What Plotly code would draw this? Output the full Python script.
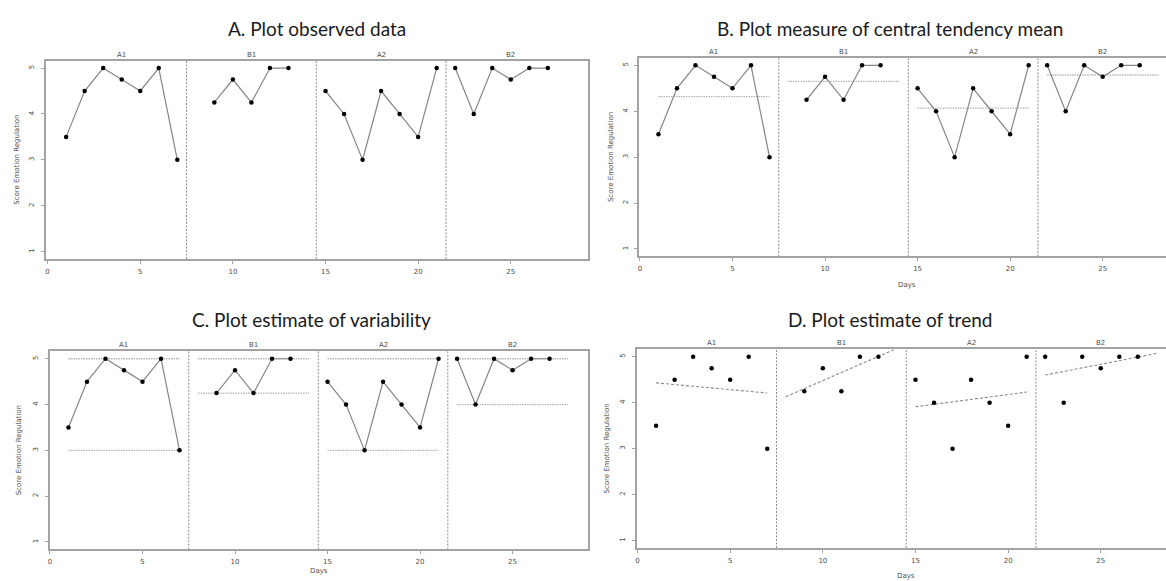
import plotly.graph_objects as go

# ---------------- data ----------------
phase_names = ["A1", "B1", "A2", "B2"]
phase_days = [
    [1, 2, 3, 4, 5, 6, 7],
    [9, 10, 11, 12, 13],
    [15, 16, 17, 18, 19, 20, 21],
    [22, 23, 24, 25, 26, 27],
]
phase_scores = [
    [3.5, 4.5, 5.0, 4.75, 4.5, 5.0, 3.0],
    [4.25, 4.75, 4.25, 5.0, 5.0],
    [4.5, 4.0, 3.0, 4.5, 4.0, 3.5, 5.0],
    [5.0, 4.0, 5.0, 4.75, 5.0, 5.0],
]
phase_start = [1, 8, 15, 22]
phase_end = [7, 14, 21, 28]
phase_centers = [4, 11, 18, 25]
phase_breaks = [7.5, 14.5, 21.5]
phase_means = [4.32, 4.65, 4.07, 4.79]
phase_min = [3.0, 4.25, 3.0, 4.0]
phase_max = [5.0, 5.0, 5.0, 5.0]
trend_start = [4.43, 4.13, 3.91, 4.60]
trend_end = [4.21, 5.18, 4.23, 5.07]

panel_titles = [
    "A. Plot observed data",
    "B. Plot measure of central tendency mean",
    "C. Plot estimate of variability",
    "D. Plot estimate of trend",
]
x_ticks = [0, 5, 10, 15, 20, 25]
y_ticks = [1, 2, 3, 4, 5]

# ---------------- geometry (pixels) ----------------
W, H = 1166, 581
boxes = [
    dict(l=44, r=586.7, t=60.7, b=259.0, xr=[-0.09, 29.15]),
    dict(l=638.3, r=1166, t=58.0, b=256.3, xr=[-0.04, 28.42]),
    dict(l=47.7, r=586.7, t=351.4, b=549.3, xr=[-0.02, 29.06]),
    dict(l=635.7, r=1166, t=349.3, b=548.0, xr=[-0.05, 28.52]),
]
title_pos = [(316, 28), (890, 28), (310, 320), (890, 320)]
ylab_x = [15, 610, 17, 606]
days_pos = [None, (907, 285), (318, 571), (906, 576)]

BOX = "#a3a3a3"
TXT = "#4d4d4d"
FONT = "DejaVu Sans"
SMALL = 7


def px(x):
    return x / W


def py(y):
    return 1 - y / H


fig = go.Figure()
annotations = []
shapes = []

for p in range(4):
    bx = boxes[p]
    sfx = "" if p == 0 else str(p + 1)
    xa, ya = "x" + sfx, "y" + sfx
    right_edge = bx["r"] < W - 1

    fig.layout["xaxis" + sfx] = dict(
        domain=[px(bx["l"]), min(1.0, px(bx["r"]))],
        range=bx["xr"],
        anchor=ya,
        tickvals=x_ticks,
        ticks="outside",
        ticklen=3,
        tickcolor=BOX,
        showline=True,
        linecolor=BOX,
        linewidth=1.5,
        mirror=True,
        showgrid=False,
        zeroline=False,
        tickfont=dict(family=FONT, size=SMALL, color=TXT),
        ticklabelstandoff=2,
    )
    fig.layout["yaxis" + sfx] = dict(
        domain=[py(bx["b"]), py(bx["t"])],
        range=[0.84, 5.16],
        anchor=xa,
        tickvals=y_ticks,
        ticks="outside",
        ticklen=3,
        tickcolor=BOX,
        tickangle=-90,
        showline=True,
        linecolor=BOX,
        linewidth=1.5,
        mirror=right_edge,
        showgrid=False,
        zeroline=False,
        tickfont=dict(family=FONT, size=SMALL, color=TXT),
        ticklabelstandoff=4,
    )

    # phase separators
    for xb in phase_breaks:
        shapes.append(dict(type="line", xref=xa, yref=ya + " domain",
                           x0=xb, x1=xb, y0=0, y1=1,
                           line=dict(color="#8c8c8c", width=1, dash="2px,1.5px")))

    for i in range(4):
        if p == 1:
            fig.add_trace(go.Scatter(
                x=[phase_start[i], phase_end[i]], y=[phase_means[i], phase_means[i]],
                mode="lines", xaxis=xa, yaxis=ya, showlegend=False, hoverinfo="skip",
                line=dict(color="#b3b3b3", width=1.3, dash="1.5px,1px")))
        if p == 2:
            for lv in (phase_min[i], phase_max[i]):
                fig.add_trace(go.Scatter(
                    x=[phase_start[i], phase_end[i]], y=[lv, lv],
                    mode="lines", xaxis=xa, yaxis=ya, showlegend=False, hoverinfo="skip",
                    line=dict(color="#b3b3b3", width=1.3, dash="1.5px,1px")))
        if p == 3:
            fig.add_trace(go.Scatter(
                x=[phase_start[i], phase_end[i]], y=[trend_start[i], trend_end[i]],
                mode="lines", xaxis=xa, yaxis=ya, showlegend=False, hoverinfo="skip",
                line=dict(color="#8a8a8a", width=1.1, dash="3px,2px")))

        fig.add_trace(go.Scatter(
            x=phase_days[i], y=phase_scores[i],
            mode="markers" if p == 3 else "lines+markers",
            xaxis=xa, yaxis=ya, showlegend=False,
            line=dict(color="#858585", width=1.2),
            marker=dict(color="black", size=4.5)))

        annotations.append(dict(
            x=phase_centers[i], y=py(bx["t"]), xref=xa, yref="paper",
            text=phase_names[i], showarrow=False, yanchor="bottom",
            font=dict(family=FONT, size=SMALL, color=TXT)))

    tx, ty = title_pos[p]
    annotations.append(dict(
        x=px(tx), y=py(ty), xref="paper", yref="paper", text=panel_titles[p],
        showarrow=False, xanchor="center", yanchor="middle",
        font=dict(family="Lato", size=19, color="#1a1a1a")))

    annotations.append(dict(
        x=px(ylab_x[p]), y=py((bx["t"] + bx["b"]) / 2), xref="paper", yref="paper",
        text="Score Emotion Regulation", textangle=-90, showarrow=False,
        xanchor="center", yanchor="middle",
        font=dict(family=FONT, size=SMALL, color=TXT)))

    if days_pos[p] is not None:
        dx, dy = days_pos[p]
        annotations.append(dict(
            x=px(dx), y=py(dy), xref="paper", yref="paper", text="Days",
            showarrow=False, xanchor="center", yanchor="middle",
            font=dict(family=FONT, size=SMALL, color=TXT)))

fig.update_layout(
    width=W, height=H,
    margin=dict(l=0, r=0, t=0, b=0),
    paper_bgcolor="white",
    plot_bgcolor="white",
    annotations=annotations,
    shapes=shapes,
    showlegend=False,
)

fig.write_html(
    "out.html",
    config={"displayModeBar": False},
    post_script="document.body.style.margin='0';document.body.style.overflow='hidden';",
)
